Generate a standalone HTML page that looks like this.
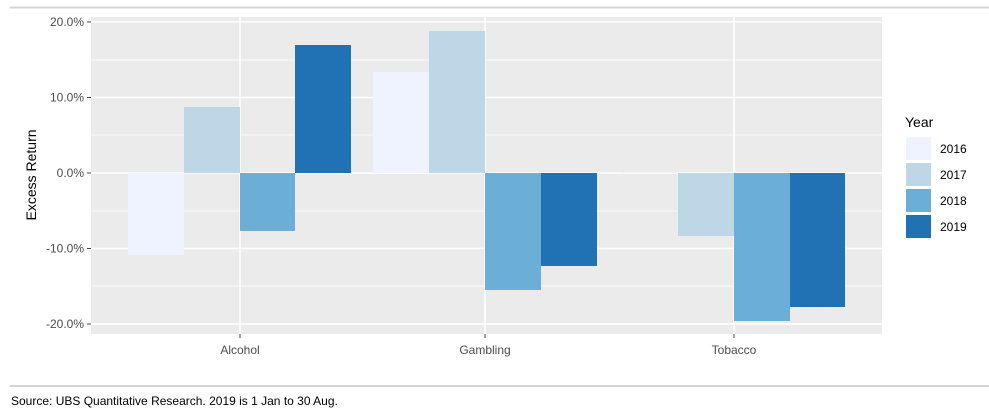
<!DOCTYPE html>
<html><head><style>body{margin:0;background:#fff;}svg{display:block;font-family:"Liberation Sans",sans-serif;}</style></head><body>
<svg width="989" height="417" viewBox="0 0 989 417">
<line x1="10" y1="7.5" x2="989" y2="7.5" stroke="#d4d4d4" stroke-width="2"/>
<rect x="91" y="17" width="791" height="317" fill="#ebebeb"/>
<g stroke="#fff" stroke-width="0.8"><line x1="91" x2="882" y1="60" y2="60"/><line x1="91" x2="882" y1="135" y2="135"/><line x1="91" x2="882" y1="211" y2="211"/><line x1="91" x2="882" y1="286" y2="286"/></g>
<g stroke="#fff" stroke-width="1.6"><line x1="91" x2="882" y1="22" y2="22"/><line x1="91" x2="882" y1="97.5" y2="97.5"/><line x1="91" x2="882" y1="173" y2="173"/><line x1="91" x2="882" y1="248.5" y2="248.5"/><line x1="91" x2="882" y1="324" y2="324"/>
<line x1="240" x2="240" y1="17" y2="334"/><line x1="485" x2="485" y1="17" y2="334"/><line x1="734" x2="734" y1="17" y2="334"/></g>
<g>
<rect x="128" y="173" width="56" height="82" fill="#eff3ff"/>
<rect x="184" y="107" width="56" height="66" fill="#bdd7e7"/>
<rect x="240" y="173" width="55" height="58" fill="#6baed6"/>
<rect x="295" y="45" width="56" height="128" fill="#2171b5"/>
<rect x="373" y="72" width="56" height="101" fill="#eff3ff"/>
<rect x="429" y="31" width="56" height="142" fill="#bdd7e7"/>
<rect x="485" y="173" width="56" height="117" fill="#6baed6"/>
<rect x="541" y="173" width="56" height="93" fill="#2171b5"/>
<rect x="622" y="172" width="56" height="1" fill="#eff3ff"/>
<rect x="678" y="173" width="56" height="63" fill="#bdd7e7"/>
<rect x="734" y="173" width="56" height="148" fill="#6baed6"/>
<rect x="790" y="173" width="55" height="134" fill="#2171b5"/>
</g>
<g stroke="#444" stroke-width="1"><line x1="87" x2="91" y1="22" y2="22"/><line x1="87" x2="91" y1="97.5" y2="97.5"/><line x1="87" x2="91" y1="173" y2="173"/><line x1="87" x2="91" y1="248.5" y2="248.5"/><line x1="87" x2="91" y1="324" y2="324"/>
<line x1="240" x2="240" y1="334" y2="338"/><line x1="485" x2="485" y1="334" y2="338"/><line x1="734" x2="734" y1="334" y2="338"/></g>
<g font-size="12" fill="#4d4d4d" text-anchor="end"><text x="84" y="26">20.0%</text><text x="84" y="101.5">10.0%</text><text x="84" y="177">0.0%</text><text x="84" y="252.5">-10.0%</text><text x="84" y="328">-20.0%</text></g>
<g font-size="12" fill="#4d4d4d" text-anchor="middle"><text x="240" y="354">Alcohol</text><text x="485" y="354">Gambling</text><text x="734" y="354">Tobacco</text></g>
<text transform="translate(36,175) rotate(-90)" font-size="14" text-anchor="middle" fill="#000">Excess Return</text>
<text x="905" y="127" font-size="14" fill="#000">Year</text>
<rect x="906" y="137" width="25" height="23" fill="#eff3ff"/>
<rect x="906" y="163" width="25" height="23" fill="#bdd7e7"/>
<rect x="906" y="189" width="25" height="23" fill="#6baed6"/>
<rect x="906" y="215" width="25" height="23" fill="#2171b5"/>
<g font-size="12" fill="#000"><text x="940" y="153">2016</text><text x="940" y="179">2017</text><text x="940" y="205">2018</text><text x="940" y="231">2019</text></g>
<line x1="10" y1="386" x2="989" y2="386" stroke="#d4d4d4" stroke-width="2"/>
<text x="11" y="405" font-size="12" fill="#000">Source:  UBS Quantitative Research. 2019 is 1 Jan to 30 Aug.</text>
</svg>
</body></html>
